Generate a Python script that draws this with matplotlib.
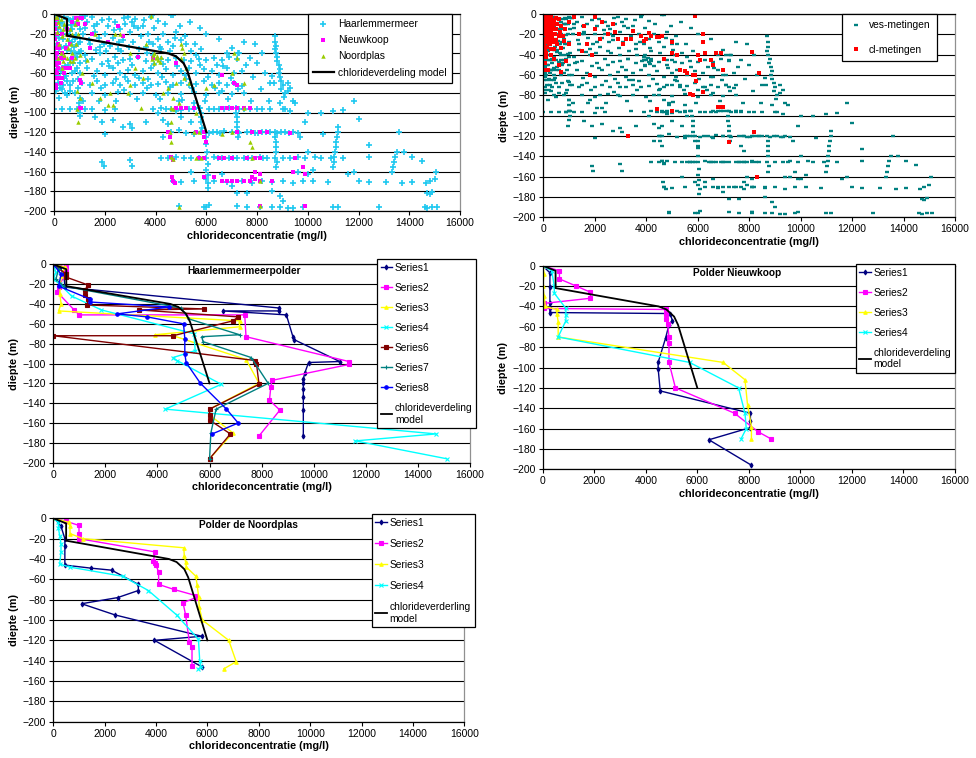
import matplotlib
matplotlib.use('Agg')
import matplotlib.pyplot as plt

plt.rcParams['font.family'] = ['Liberation Sans', 'DejaVu Sans']

W, H = 976, 758

# ---------------- scatter data ----------------
haarlemmermeer = [
    # dense cluster near the origin
    (50,-2),(120,-5),(200,-3),(300,-8),(80,-10),(400,-12),(600,-6),(150,-15),(250,-18),(500,-20),
    (700,-15),(900,-10),(60,-22),(350,-25),(800,-25),(100,-30),(450,-32),(1000,-28),(200,-36),(650,-38),
    (50,-42),(300,-45),(900,-44),(150,-50),(550,-52),(1000,-50),(250,-58),(700,-60),(80,-62),(400,-65),
    (950,-66),(150,-70),(600,-72),(300,-76),(50,-78),(800,-80),(500,-82),(200,-85),(750,-5),(1000,-3),
    (20,-5),(70,-14),(170,-24),(220,-9),(270,-33),(320,-44),(370,-3),(420,-53),(470,-63),(520,-37),
    (570,-27),(620,-47),(670,-11),(720,-68),(770,-33),(820,-58),(870,-21),(920,-75),(970,-39),(30,-48),
    (130,-56),(230,-64),(330,-72),(430,-80),(530,-5),(630,-17),(730,-50),(830,-40),(930,-30),(1030,-15),
    (10,-35),(110,-45),(210,-75),(310,-55),(410,-35),(510,-68),(610,-78),(710,-28),(810,-10),(910,-55),
    # band above the model line
    (1100,-4),(1300,-8),(1500,-3),(1700,-10),(1900,-6),(2100,-12),(1200,-14),(1600,-18),(2000,-20),(2400,-8),
    (2600,-15),(2800,-10),(3000,-18),(3200,-5),(3500,-12),(2300,-24),(2700,-26),(3100,-28),(3400,-22),(3700,-20),
    (3900,-30),(4100,-25),(4300,-20),(4500,-28),(4700,-32),(3600,-34),(4200,-36),(4800,-18),(5000,-26),(1400,-30),
    (1800,-34),(2200,-32),(2500,-36),(4600,-1),(4100,-7),(3800,-3),(5200,-30),(5400,-38),(5600,-42),(6000,-20),
    (5800,-36),(1200,-2),(2900,-3),(3300,-14),
    (1150,-20),(1350,-26),(1550,-12),(1750,-24),(1950,-30),(2150,-5),(2350,-16),(2550,-28),(2750,-4),(2950,-33),
    (3150,-12),(3350,-36),(3550,-6),(3750,-28),(3950,-14),(4150,-33),(4350,-10),(4550,-38),(4750,-24),(4950,-12),
    (5150,-22),(5350,-8),(5550,-30),(5750,-14),(1050,-38),(1650,-37),(2650,-38),(3050,-8),(2050,-38),(3650,-40),
    # band -40 .. -90
    (1200,-42),(1500,-46),(1800,-40),(2100,-48),(2400,-44),(2700,-47),(3000,-46),(3300,-44),(3600,-48),(3900,-42),
    (4200,-46),(4500,-47),(4800,-45),(5100,-47),(5400,-48),(5700,-46),(6000,-47),(6300,-45),(6600,-47),(6900,-44),
    (7200,-46),(1300,-55),(1700,-58),(2000,-62),(2300,-55),(2600,-60),(2900,-57),(3200,-62),(3500,-58),(3800,-55),
    (4100,-60),(4400,-56),(4700,-62),(5000,-58),(5300,-55),(5600,-60),(5900,-56),(6200,-58),(6500,-62),(6800,-55),
    (7100,-60),(7400,-58),(1100,-70),(1400,-72),(1700,-68),(2000,-72),(2300,-70),(2600,-72),(2900,-68),(3200,-72),
    (3500,-70),(3800,-72),(4100,-71),(4400,-69),(4700,-72),(5000,-70),(5300,-72),(5600,-71),(5900,-68),(6200,-72),
    (6500,-70),(6800,-72),(7100,-70),(7400,-73),(1500,-80),(2000,-82),(2500,-79),(3000,-81),(3500,-80),(4000,-82),
    (4500,-80),(5000,-81),(5500,-79),(6000,-82),(6500,-80),(7000,-81),(7500,-80),(1000,-60),(2800,-64),(4300,-51),
    (6400,-52),(3700,-66),(5200,-66),(6600,-78),(1900,-51),(2500,-50),
    (1250,-48),(1550,-63),(1850,-75),(2150,-53),(2450,-66),(2750,-77),(3050,-52),(3350,-65),(3650,-75),(3950,-51),
    (4250,-64),(4550,-74),(4850,-53),(5150,-62),(5450,-75),(5750,-52),(6050,-64),(6350,-75),(6650,-53),(6950,-65),
    (7250,-76),(7550,-52),(7850,-64),(8150,-76),(8450,-88),(1150,-88),(1750,-88),(2450,-88),(3250,-86),(4150,-86),
    (5050,-87),(5950,-88),(6850,-86),(7750,-88),(7250,-40),(7700,-45),(8200,-40),(7900,-30),
    # upper right part
    (6500,-25),(7000,-35),(7300,-40),(7500,-28),(8000,-50),(8300,-60),(9400,-88),(9200,-78),(8500,-70),(6800,-40),
    # streak near 8700
    (8700,-22),(8720,-28),(8750,-32),(8700,-36),(8750,-40),(8800,-44),(8780,-48),(8850,-52),(8900,-56),(8850,-60),
    (8900,-64),(8950,-68),(9000,-72),(8950,-76),(9100,-80),(9050,-84),(8900,-90),(8600,-63),(8650,-70),(9200,-70),
    (9300,-75),(9100,-96),(9300,-98),(9500,-90),
    # row near -96
    (0,-96),(300,-96),(600,-96),(900,-96),(1200,-96),(1500,-96),(2000,-97),(2400,-96),(3900,-96),(4200,-95),
    (4600,-96),(5000,-97),(5300,-96),(5700,-95),(6100,-96),(6500,-96),(6900,-95),(7500,-96),(8000,-96),(8500,-96),
    (9000,-96),(4400,-96),(4800,-96),(5500,-96),(6300,-96),(6700,-96),(7300,-96),(7700,-96),(8200,-96),
    # streak at 1000
    (1000,-85),(980,-90),(1000,-95),(1020,-100),(1000,-104),
    # middle scatter
    (1600,-105),(1900,-110),(2300,-108),(2700,-115),(3000,-112),(3050,-116),(2000,-122),(3600,-110),(4100,-100),
    (4300,-108),(4500,-112),(5000,-105),(5400,-110),(5500,-90),(4900,-88),(4800,-98),
    (1900,-150),(1950,-154),(3000,-148),(3050,-154),
    # row near -120
    (4300,-125),(4600,-120),(4900,-118),(5200,-121),(5500,-122),(5800,-120),(6100,-121),(6400,-120),(6700,-119),
    (7000,-120),(7300,-121),(7600,-120),(7900,-121),(8200,-120),(8500,-120),(8800,-121),(9100,-120),(9400,-120),
    (9600,-121),(6250,-120),(6550,-121),(7750,-120),(8050,-121),(8350,-120),(8950,-120),(9250,-121),
    (7150,-95),(7170,-100),(7190,-105),(7200,-110),(7220,-115),(7240,-120),(7260,-125),
    (5750,-95),(5770,-100),(5800,-105),(5800,-110),(5820,-116),
    # row near -146
    (4200,-146),(4500,-146),(4800,-145),(5100,-146),(5400,-146),(5700,-146),(6000,-146),(6300,-145),(6600,-146),
    (6900,-146),(7200,-146),(7500,-146),(7800,-146),(8100,-145),(8400,-146),(8700,-146),(9000,-146),(9300,-146),
    (9600,-145),(9900,-146),(10500,-146),(10900,-146),(11400,-146),(6450,-146),(7050,-146),(7650,-146),(8250,-146),
    (6000,-125),(6000,-132),(6020,-140),(6050,-152),(6000,-158),(6050,-163),(6000,-168),(6080,-172),(6050,-177),
    (8700,-120),(8720,-125),(8740,-130),(8750,-135),(8750,-140),(8780,-150),(8750,-155),
    (11200,-115),(11180,-120),(11150,-125),(11120,-130),(11100,-135),(11080,-140),(11050,-145),(11020,-150),(11000,-155),
    (13500,-140),(13450,-145),(13400,-150),(13350,-155),(13300,-160),
    (10000,-100),(10500,-100),(11000,-98),(11400,-97),(12000,-107),(11800,-88),(12400,-133),(12400,-145),(11600,-162),
    (11800,-160),(10600,-122),(10000,-140),(13600,-120),(13800,-140),(14100,-145),(14500,-149),(10300,-145),
    (9700,-125),(9900,-110),
    # row near -170
    (4700,-170),(5000,-171),(5500,-170),(6300,-170),(6800,-171),(7000,-175),(7400,-170),(7800,-172),(8200,-170),
    (8600,-171),(9000,-170),(9400,-172),(9800,-170),(10200,-170),(10800,-171),(12000,-170),(12400,-171),(13100,-171),
    (13700,-172),(14100,-171),(14800,-170),(15000,-168),(15050,-160),(7200,-182),(7600,-182),(8600,-180),(8900,-185),
    (9000,-190),(10000,-162),(10200,-158),(9600,-160),(6600,-162),(5400,-160),
    # row near -196
    (4900,-195),(5900,-196),(6000,-196),(6100,-194),(7200,-195),(7600,-196),(8100,-196),(8600,-196),(8900,-196),
    (9200,-197),(9400,-197),(9800,-196),(11000,-196),(11200,-196),(12800,-196),(14600,-196),(14700,-197),(14900,-196),
    (15100,-196),(14700,-182),(14800,-183),(14900,-181),(14650,-172),(4700,-1),(3850,-1),
]

nieuwkoop = [
    (50,-10),(100,-20),(150,-30),(100,-40),(50,-45),(200,-50),(150,-55),(100,-60),(250,-70),(50,-72),
    (300,-40),(400,-45),(500,-55),(600,-55),(400,-60),(200,-35),(300,-20),(600,-30),(500,-15),(700,-8),
    (850,-4),(1000,-4),(950,-10),(1100,-4),(300,-65),(700,-45),(1000,-67),(1050,-70),(1000,-95),(1050,-95),
    (20,-15),(30,-25),(40,-35),(20,-50),(60,-58),(30,-65),(80,-75),(120,-5),(10,-42),(70,-52),
    (150,-65),(250,-45),(350,-55),(450,-35),
    (1200,-10),(1500,-20),(1400,-35),(2100,-28),(2500,-12),(2700,-22),(3300,-44),(3900,-45),(4500,-120),(4550,-125),
    (4600,-145),(4700,-148),(4650,-165),(4700,-170),(4750,-172),(4800,-50),(4800,-95),(5000,-95),(5200,-95),(5500,-95),
    (5900,-120),(6000,-130),(6600,-62),(6600,-95),(6800,-95),(7000,-95),(7200,-95),(7500,-95),(7700,-95),(7100,-70),
    (7200,-72),(5700,-146),(5900,-146),(6500,-146),(6700,-146),(7000,-146),(7600,-146),(7900,-146),(8100,-146),(9500,-146),
    (5900,-165),(6300,-165),(6600,-170),(6800,-170),(7000,-170),(7200,-170),(7500,-170),(7700,-170),(7900,-168),(8100,-170),
    (7900,-160),(8100,-162),(7800,-165),(8600,-170),(9400,-160),(9800,-155),(9900,-162),(8100,-195),(9900,-195),(5600,-120),
    (5900,-125),(7200,-120),(8100,-120),(8400,-120),(9300,-121),(7800,-120),
]

noordplas = [
    (50,-3),(150,-8),(250,-5),(400,-10),(600,-15),(800,-10),(100,-18),(300,-22),(500,-25),(700,-20),
    (900,-5),(200,-30),(400,-42),(500,-45),(600,-48),(800,-45),(1000,-42),(700,-40),(300,-55),(900,-78),
    (100,-3),(200,-12),(350,-15),(450,-20),(550,-35),(650,-30),(750,-48),(850,-30),(950,-20),(150,-45),
    (250,-40),(350,-48),
    (1000,-85),(900,-96),(950,-110),(1100,-60),(1600,-20),(2400,-20),(2600,-20),(3000,-40),(3200,-55),(3600,-30),
    (3800,-2),(3900,-42),(4000,-45),(4100,-47),(3950,-50),(4200,-44),(3950,-40),(4050,-43),(4150,-49),(3850,-46),
    (3500,-65),(3000,-72),(2900,-80),(4300,-80),
    (4500,-75),(4700,-85),(5000,-30),(5050,-35),(5100,-40),(5000,-45),(5200,-55),(5100,-65),(5300,-70),(4800,-70),
    (4900,-90),(4600,-95),(4700,-96),(5600,-100),(5700,-120),(5500,-120),(4600,-110),(4550,-120),(4600,-130),(4600,-145),
    (4700,-147),(5600,-146),(5800,-146),(6600,-122),(7000,-120),(7100,-40),(7200,-45),(7000,-60),(7500,-70),(7500,-95),
    (7700,-130),(7800,-135),(7800,-146),(8100,-170),(8100,-195),(4900,-196),(2200,-80),(1800,-85),(1500,-70),(1300,-47),
    (6000,-75),(6300,-72),(3400,-95),(2100,-92),(2300,-92),
]

cl_metingen = [
    (30,-3),(80,-6),(130,-2),(180,-8),(230,-4),(280,-10),(330,-6),(380,-12),(430,-8),(480,-15),
    (40,-12),(90,-16),(140,-20),(190,-14),(240,-22),(290,-18),(340,-24),(390,-20),(440,-28),(60,-25),
    (110,-28),(160,-32),(210,-26),(260,-30),(310,-34),(50,-34),(100,-38),(150,-22),(200,-18),(250,-12),
    (550,-10),(600,-5),(650,-18),(700,-12),(750,-22),(850,-15),(120,-42),(60,-48),(40,-55),
    (20,-8),(70,-19),(170,-11),(120,-14),(220,-30),(320,-15),(20,-20),(20,-30),(500,-4),(450,-20),
    (360,-28),(270,-5),(90,-9),(170,-26),(410,-34),(520,-30),(600,-22),(10,-40),(70,-32),(300,-2),
    (1000,-8),(1200,-3),(1400,-20),(1600,-12),(1700,-30),(2000,-3),(2000,-15),(2200,-25),(2300,-8),(2500,-20),
    (2700,-10),(2800,-18),(2900,-25),(3100,-30),(3200,-25),(3400,-25),(3500,-17),(3800,-22),(4000,-25),(4100,-19),
    (4200,-22),(4400,-23),(4500,-23),(4600,-22),(4700,-44),(5000,-28),(5000,-38),(5200,-40),(5300,-55),(5500,-56),
    (5600,-58),(5800,-60),(5900,-60),(5950,-66),(6000,-40),(6100,-45),(6200,-20),(6200,-28),(6300,-38),(6500,-45),
    (6600,-50),(6700,-38),(6900,-38),(7000,-55),(6200,-77),(6800,-91),(6900,-91),(7000,-91),(7200,-126),(5900,-2),
    (4400,-93),(5000,-95),(3300,-120),(8100,-37),(8400,-58),(8200,-116),(8300,-160),(5700,-79),(5800,-80),(3900,-27),
    (1500,-36),(1000,-30),(700,-33),(800,-27),(500,-26),(300,-40),(400,-44),(200,-55),(700,-57),(900,-46),
    (600,-50),(1900,-40),(1800,-60),
]

# ---------------- model line ----------------
model_x = [0, 500, 500, 4500, 4800, 5100, 5250, 6000]
model_y = [0, -5, -22, -40, -43, -50, -58, -120]

# ---------------- Haarlemmermeerpolder ----------------
hm_series = {
    'Series1': ([0,250,400,450,8650,8650,6500,8950,9200,9250,11000,9800,9650,9600,9600,9600,9600,9600,9600],
                [0,-3,-10,-23,-44,-47,-47,-51,-73,-76,-98,-99,-110,-116,-120,-126,-134,-147,-173]),
    'Series2': ([0,500,500,200,150,800,1000,7350,7400,11350,11350,8400,8350,8300,8700,7900],
                [0,-3,-8,-23,-28,-46,-51,-51,-73,-98,-101,-117,-124,-137,-147,-173]),
    'Series3': ([0,450,300,250,300,200,7150,7150,3900,4600,7400,7900,6000,6000,6900,6000],
                [0,-3,-12,-30,-40,-47,-57,-63,-71,-72,-96,-120,-146,-152,-170,-196]),
    'Series4': ([0,100,0,250,700,1850,5400,5450,4600,4750,6450,4300,14700,11600,15100],
                [0,-8,-15,-20,-32,-46,-70,-87,-94,-97,-121,-146,-171,-178,-196]),
    'Series6': ([0,500,500,1350,1200,1200,1350,1300,5800,3300,7100,6900,4600,0,7750,7800,7900,6000,6000,6000,6800,6000],
                [0,-10,-13,-21,-26,-31,-35,-41,-45,-46,-53,-57,-72,-72,-97,-100,-121,-146,-152,-157,-171,-196]),
    'Series7': ([0,200,100,400,4900,5200,7150,5700,5750,7600,8250,6250,6050,6000],
                [0,-5,-15,-22,-44,-55,-71,-73,-78,-94,-120,-146,-170,-196]),
    'Series8': ([0,300,200,1400,1400,4450,2450,3600,5000,5050,5050,5100,5650,6650,7100,6100],
                [0,-10,-22,-35,-38,-43,-50,-53,-60,-75,-90,-99,-120,-146,-160,-171]),
}

# ---------------- Polder Nieuwkoop ----------------
nk_series = {
    'Series1': ([0,280,280,280,280,280,4950,5030,4900,4770,4480,4480,4560,8060,8060,8060,6450,8100],
                [0,-7,-21,-37,-42,-46,-47,-54,-58,-71,-95,-101,-123,-145,-153,-159,-171,-196]),
    'Series2': ([0,650,650,1300,1850,1850,60,50,4770,4800,4800,4850,4900,4900,4900,5150,7450,8350,8850],
                [0,-5,-13,-20,-26,-32,-37,-42,-43,-47,-52,-57,-70,-76,-95,-120,-145,-163,-170]),
    'Series3': ([0,60,0,60,100,550,550,600,600,7000,7850,7950,8100,8100],
                [0,-8,-20,-30,-40,-43,-47,-55,-70,-95,-112,-137,-158,-170]),
    'Series4': ([0,350,450,450,900,900,900,600,5700,7600,7850,7900,7700],
                [0,-5,-20,-27,-42,-48,-54,-70,-95,-120,-145,-160,-170]),
}

# ---------------- Polder de Noordplas ----------------
np_series = {
    'Series1': ([0,170,300,450,450,450,1460,2270,3310,3310,2500,1100,2400,5780,3935,5780],
                [0,-3,-8,-20,-27,-46,-49,-51,-65,-71,-78,-84,-95,-116,-120,-146]),
    'Series2': ([0,500,1000,1000,1000,3950,3900,3950,4000,4100,4100,4700,5550,5550,5050,5150,5300,5400,5400],
                [0,-3,-7,-15,-20,-33,-42,-44,-46,-53,-65,-70,-76,-78,-83,-95,-122,-127,-145]),
    'Series3': ([0,600,650,650,1150,5080,5100,5150,5180,5550,5600,5660,5680,5800,6830,7120,6640],
                [0,-4,-8,-15,-20,-29,-37,-43,-48,-57,-66,-77,-87,-100,-120,-141,-148]),
    'Series4': ([0,200,200,250,300,300,250,650,2700,3700,4800,5650,5700,5750,5650],
                [0,-4,-10,-17,-25,-33,-45,-48,-57,-71,-95,-119,-140,-146,-148]),
}

series_style = {
    'Series1': ('#000080', 'd'),
    'Series2': ('#ff00ff', 's'),
    'Series3': ('#ffff00', '^'),
    'Series4': ('#00ffff', 'x'),
    'Series6': ('#800000', 's'),
    'Series7': ('#008080', '+'),
    'Series8': ('#0000ff', 'o'),
}


def px_axes(x0, y0, x1, y1):
    return [x0 / W, 1 - y1 / H, (x1 - x0) / W, (y1 - y0) / H]


def style_ax(ax):
    ax.set_xlim(0, 16000)
    ax.set_ylim(-200, 0)
    ax.set_xticks(range(0, 16001, 2000))
    ax.set_yticks(range(-200, 1, 20))
    ax.yaxis.grid(True, color='black', lw=0.8)
    ax.set_axisbelow(True)
    ax.tick_params(labelsize=7.5, direction='out', length=3, width=0.8, pad=2)
    ax.spines['left'].set_color('black')
    ax.spines['bottom'].set_color('black')
    ax.spines['top'].set_color('black')
    ax.spines['right'].set_color('#909090')
    for s in ax.spines.values():
        s.set_linewidth(0.9)
    ax.set_xlabel('chlorideconcentratie (mg/l)', fontweight='bold', fontsize=7.8, labelpad=2)
    ax.set_ylabel('diepte (m)', fontweight='bold', fontsize=7.8, labelpad=3)


def add_legend(ax, fig, x, y, fs, spacing, hl=2.0, pad=0.5, tpad=0.4):
    leg = ax.legend(loc='upper left', bbox_to_anchor=(x / W, 1 - y / H),
                    bbox_transform=fig.transFigure, borderaxespad=0,
                    fontsize=fs, labelspacing=spacing, handlelength=hl,
                    handletextpad=tpad, borderpad=pad, fancybox=False,
                    framealpha=1, edgecolor='black')
    leg.get_frame().set_linewidth(0.9)
    return leg


def line_panel(ax, data, title, model_label, title_x):
    for name, (xs, ys) in data.items():
        c, m = series_style[name]
        ax.plot(xs, ys, color=c, lw=1.0, marker=m, ms=2.5, mew=0.8, label=name)
    ax.plot(model_x, model_y, color='black', lw=1.3, label=model_label)
    ax.text(title_x, 0.965, title, transform=ax.transAxes, ha='center', va='center',
            fontsize=7.3, fontweight='bold')
    style_ax(ax)


fig = plt.figure(figsize=(W / 100, H / 100), dpi=100)

# top left
ax1 = fig.add_axes(px_axes(54.3, 14, 460, 211))
hx, hy = zip(*haarlemmermeer)
nx, ny = zip(*nieuwkoop)
ox, oy = zip(*noordplas)
ax1.plot(hx, hy, ls='none', marker='+', ms=3.8, mew=1.2, color='#1ec8f0', label='Haarlemmermeer')
ax1.plot(nx, ny, ls='none', marker='s', ms=3.0, mew=0, color='#ff00ff', label='Nieuwkoop')
ax1.plot(ox, oy, ls='none', marker='^', ms=3.2, mew=0, color='#99cc00', label='Noordplas')
ax1.plot(model_x, model_y, color='black', lw=1.6, label='chlorideverdeling model')
style_ax(ax1)
add_legend(ax1, fig, 308, 14, 7.4, 0.6, hl=2.0, pad=0.5)

# top right
ax2 = fig.add_axes(px_axes(543.3, 14, 955, 217.3))
vx = list(hx) + list(nx) + list(ox)
vy = list(hy) + list(ny) + list(oy)
cx, cy = zip(*cl_metingen)
ax2.plot(vx, vy, ls='none', marker='_', ms=2.6, mew=1.7, color='#008080', label='ves-metingen')
ax2.plot(cx, cy, ls='none', marker='s', ms=2.3, mew=0, color='#ff0000', label='cl-metingen')
style_ax(ax2)
add_legend(ax2, fig, 842, 14, 7.4, 1.45, hl=1.6, pad=0.6)

# middle left
ax3 = fig.add_axes(px_axes(53.3, 264.3, 470, 462.7))
line_panel(ax3, hm_series, 'Haarlemmermeerpolder', 'chlorideverdeling\nmodel', 0.458)
add_legend(ax3, fig, 377, 259, 7.4, 0.98, hl=1.1, pad=0.35, tpad=0.3)

# middle right
ax4 = fig.add_axes(px_axes(542.7, 265.7, 955, 469.3))
line_panel(ax4, nk_series, 'Polder Nieuwkoop', 'chlorideverdeling\nmodel', 0.471)
add_legend(ax4, fig, 855.7, 264, 7.4, 0.98, hl=1.1, pad=0.35, tpad=0.3)

# bottom left
ax5 = fig.add_axes(px_axes(53.3, 518.3, 464.3, 721.7))
line_panel(ax5, np_series, 'Polder de Noordplas', 'chlorideverderling\nmodel', 0.474)
add_legend(ax5, fig, 371.7, 514, 7.4, 1.08, hl=1.1, pad=0.35, tpad=0.3)

fig.savefig('out.png', dpi=100)
